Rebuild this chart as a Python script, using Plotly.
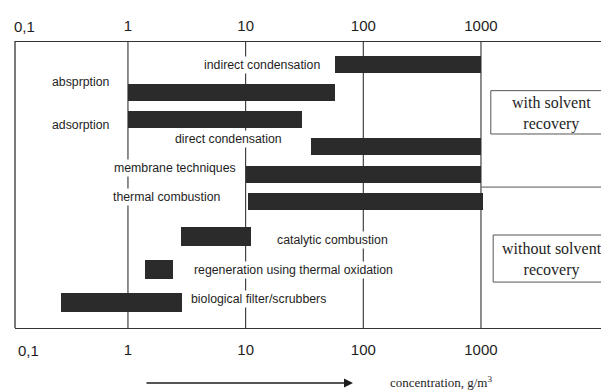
import plotly.graph_objects as go

# ---- data ----
recovery_methods = ["indirect condensation", "absprption", "adsorption",
                    "direct condensation", "membrane techniques", "thermal combustion"]
recovery_start = [57, 1, 1, 36, 10, 10.5]
recovery_end = [1000, 58, 30, 1000, 1000, 1050]

other_methods = ["catalytic combustion", "regeneration using thermal oxidation",
                 "biological filter/scrubbers"]
other_start = [2.8, 1.4, 0.27]
other_end = [11, 2.4, 2.9]

tick_vals = [1, 10, 100, 1000]
tick_text = ["1", "10", "100", "1000"]
low_tick_text = "0,1"

group_labels = ["with solvent<br>recovery", "without solvent<br>recovery"]
x_title = "concentration, g/m<sup>3</sup>"

BAR = "#2b2b2b"
INK = "#1e1e1e"
LINE = "#333333"
SANS = "Liberation Sans, Arial, sans-serif"
SERIF = "Liberation Serif, Times New Roman, serif"

fig = go.Figure()
fig.add_trace(go.Bar(
    orientation="h", y=recovery_methods,
    x=[e - s for s, e in zip(recovery_start, recovery_end)], base=recovery_start,
    marker=dict(color=BAR, line=dict(width=0)), width=0.62,
    xaxis="x", yaxis="y", showlegend=False, hoverinfo="skip"))
fig.add_trace(go.Bar(
    orientation="h", y=other_methods,
    x=[e - s for s, e in zip(other_start, other_end)], base=other_start,
    marker=dict(color=BAR, line=dict(width=0)), width=0.55,
    xaxis="x", yaxis="y2", showlegend=False, hoverinfo="skip"))
# carrier for the top axis
fig.add_trace(go.Scatter(x=[None], y=[None], xaxis="x2", yaxis="y",
                         showlegend=False, hoverinfo="skip"))

xrange = [-0.960, 4.088]
axis_common = dict(type="log", range=xrange, tickvals=tick_vals, ticktext=tick_text,
                   showgrid=False, zeroline=False, ticks="", showline=True,
                   linecolor=LINE, linewidth=1.3,
                   tickfont=dict(family=SANS, size=15, color=INK))
# the page body adds an 8px margin, so the figure is 8px smaller than the window
fig.update_layout(
    width=601, height=382,
    margin=dict(l=7, r=0, t=33, b=62),
    paper_bgcolor="white", plot_bgcolor="white",
    xaxis=dict(**axis_common, anchor="free", position=0, side="bottom",
               ticklabelstandoff=8),
    xaxis2=dict(**axis_common, anchor="free", position=1, side="top",
                overlaying="x", ticklabelstandoff=4),
    yaxis=dict(type="category", categoryorder="array", categoryarray=recovery_methods,
               range=[5.5, -0.5], domain=[0.393, 0.966], showticklabels=False,
               showgrid=False, zeroline=False, showline=False, ticks=""),
    yaxis2=dict(type="category", categoryorder="array", categoryarray=other_methods,
                range=[2.5, -0.5], domain=[0.030, 0.375], showticklabels=False,
                showgrid=False, zeroline=False, showline=False, ticks="", anchor="x"),
    bargap=0,
)

shapes = []
for v in tick_vals:
    shapes.append(dict(type="line", xref="x", yref="paper", x0=v, x1=v, y0=0, y1=1,
                       line=dict(color=LINE, width=1.1), layer="below"))
shapes.append(dict(type="line", xref="paper", yref="paper", x0=0, x1=0, y0=0, y1=1,
                   line=dict(color=LINE, width=1.3)))
shapes.append(dict(type="rect", xref="paper", yref="paper", x0=0.801, x1=1.02,
                   y0=0.676, y1=0.827, line=dict(color="#555", width=1)))
shapes.append(dict(type="rect", xref="paper", yref="paper", x0=0.805, x1=1.02,
                   y0=0.160, y1=0.324, line=dict(color="#555", width=1)))
shapes.append(dict(type="line", xref="paper", yref="paper", x0=0.785, x1=1.02,
                   y0=0.491, y1=0.491, line=dict(color="#555", width=1)))
fig.update_layout(shapes=shapes)

ann = []
label_pos = {
    "indirect condensation": (0.5168, 0.9164, "right"),
    "absprption": (0.1633, 0.8571, "right"),
    "adsorption": (0.1633, 0.7073, "right"),
    "direct condensation": (0.3586, 0.6585, "center"),
    "membrane techniques": (0.3754, 0.5575, "right"),
    "thermal combustion": (0.2551, 0.4564, "center"),
    "catalytic combustion": (0.4377, 0.3066, "left"),
    "regeneration using thermal oxidation": (0.2980, 0.2021, "left"),
    "biological filter/scrubbers": (0.2929, 0.1010, "left"),
}
for name in recovery_methods + other_methods:
    x, y, anc = label_pos[name]
    ann.append(dict(text=name, xref="paper", yref="paper", x=x, y=y, xanchor=anc,
                    yanchor="middle", showarrow=False, bgcolor="white", borderpad=1,
                    font=dict(family=SANS, size=12.3, color=INK)))
ann.append(dict(text=low_tick_text, xref="paper", yref="paper", x=0.0152, y=1.052,
                xanchor="center", yanchor="middle", showarrow=False,
                font=dict(family=SANS, size=15, color=INK)))
ann.append(dict(text=low_tick_text, xref="paper", yref="paper", x=0.0219, y=-0.0767,
                xanchor="center", yanchor="middle", showarrow=False,
                font=dict(family=SANS, size=15, color=INK)))
ann.append(dict(text=group_labels[0], xref="paper", yref="paper", x=0.904, y=0.747,
                xanchor="center", yanchor="middle", showarrow=False,
                font=dict(family=SERIF, size=16, color=INK)))
ann.append(dict(text=group_labels[1], xref="paper", yref="paper", x=0.904, y=0.240,
                xanchor="center", yanchor="middle", showarrow=False,
                font=dict(family=SERIF, size=16, color=INK)))
ann.append(dict(text="", xref="paper", yref="paper", x=0.569, y=-0.1916,
                ax=-208, ay=0, showarrow=True, arrowhead=2, arrowsize=1.2,
                arrowwidth=1.5, arrowcolor=INK, standoff=0))
ann.append(dict(text=x_title, xref="paper", yref="paper", x=0.628, y=-0.1881,
                xanchor="left", yanchor="middle", showarrow=False,
                font=dict(family=SERIF, size=13, color=INK)))
fig.update_layout(annotations=ann)

fig.write_html("out.html")
